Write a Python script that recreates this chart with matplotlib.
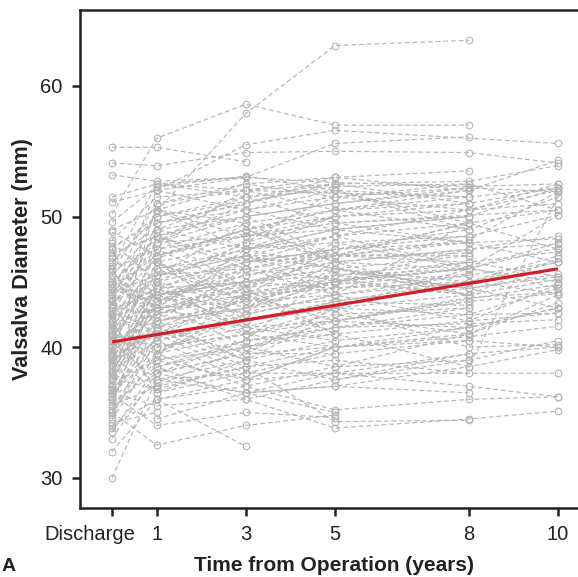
import numpy as np
import matplotlib
matplotlib.use("Agg")
import matplotlib.pyplot as plt
from matplotlib.transforms import ScaledTranslation

plt.rcParams["font.family"] = ["Liberation Sans", "DejaVu Sans"]

_ = np.nan

# follow-up time points (years after operation; 0 = discharge)
times = [0, 1, 3, 5, 8, 10]
tick_labels = ["Discharge", "1", "3", "5", "8", "10"]

# Valsalva diameter (mm) per patient, one list per time point (nan = not measured)
discharge = [
    50.2, _, 55.3, 54.1, 30.0, 32.0, 35.0, 36.5, 53.2, 51.1,
    38.5, 42.0, 36.0, 44.5, 40.0, 34.5, 47.7, 39.0, 43.0, 37.5,
    41.0, 45.0, 38.0, 35.5, 42.5, 40.5, 46.0, 39.5, 37.0, 43.5,
    48.2, 36.8, 41.5, 44.0, 33.5, 40.0, 46.5, 38.8, 42.8, 35.0,
    49.6, 39.2, 44.8, 37.8, 41.8, 36.2, 43.8, 40.8, 34.0, 45.5,
    38.2, 42.2, 39.8, 47.0, 36.5, 41.2, 44.2, 37.2, 43.2, 35.8,
    46.8, 40.2, 38.6, 45.2, 33.0, 41.6, 48.8, 39.4, 43.6, 36.0,
    _, _, _, _, _, _, _, _, _, _,
    _, _, _, _, _, _, _, _, _, _,
    _, _, _, _, _, _, _, _, _, _,
    47.5, 34.2, 42.6, 39.6, 45.8, 37.6, 40.6, 44.4, 35.2, 41.4,
    38.0, 43.0, 39.0, 46.2, 37.0, 40.4, 42.4, 44.6, 36.4, 41.0,
    51.5, 49.0, 38.3, 40.1, 45.0, 33.8, 47.2, 39.3, 43.3, 36.7,
    44.0, 47.5, 35.5, 42.0, 39.0, 46.0, 37.5, 43.5, 41.0, 36.0,
    40.5, 45.5, 38.0, 42.5, 34.8, 43.0, 48.0, 37.0, 40.8, 44.8,
    _, _, _, _, _, _, _, _, _, _,
]
year1 = [
    56.0, 50.4, 55.3, 53.9, 37.5, 36.0, 32.5, 35.5, 52.7, 52.0,
    44.5, 45.5, 41.5, 47.0, 43.0, 39.5, 49.5, 45.0, 44.0, 43.5,
    44.0, 48.0, 44.5, 37.0, 46.0, 42.0, 47.5, 43.5, 42.0, 45.0,
    51.5, 40.0, 42.5, 48.5, 38.5, 46.5, 50.0, 42.0, 44.5, 41.0,
    52.3, 41.0, 46.5, 41.5, 43.0, 38.5, 47.5, 44.5, 36.0, 49.0,
    40.5, 44.0, 43.0, 49.0, 39.5, 45.5, 45.5, 39.0, 48.0, 38.0,
    44.0, 46.0, 44.5, 42.0, 38.0, 38.5, 47.0, 36.5, 50.5, 42.5,
    48.5, 45.0, 42.0, 50.0, 46.0, 39.0, 52.0, 44.0, 37.0, 47.0,
    41.0, 49.5, 43.5, 36.0, 51.0, 40.0, 45.5, 38.0, 48.0, 42.5,
    _, _, _, _, _, _, _, _, _, _,
    50.0, 35.0, 44.5, 42.5, 51.0, 36.8, 39.5, 43.5, 39.0, 47.0,
    44.0, 41.0, 45.0, 52.5, 43.5, 37.5, 49.0, 44.0, 34.0, 40.0,
    52.5, 50.5, 42.8, 46.5, 43.0, 37.5, 48.5, 41.3, 46.8, 40.8,
    52.0, 41.5, 45.0, 36.5, 51.0, 40.5, 48.5, 38.0, 49.5, 44.0,
    47.5, 43.0, 42.0, 50.5, 40.5, 39.5, 45.0, 45.5, 37.0, 48.5,
    52.5, 46.5, 39.5, 50.5, 43.0, 34.5, 48.0, 41.5, _, _,
]
year3 = [
    58.6, 57.9, 54.2, 54.9, 38.0, 32.4, 34.0, 36.0, 53.0, 55.5,
    42.5, 47.0, 39.5, 49.0, 44.0, 37.0, 51.0, 41.0, 45.5, 40.0,
    46.0, 50.0, 41.5, _, 47.5, 43.0, 48.5, _, 39.0, _,
    52.0, 41.5, 44.0, 50.5, 36.0, 42.0, _, 43.5, 45.0, 38.0,
    53.1, _, 48.0, 43.0, 43.5, 40.5, 49.5, 46.5, 37.5, 51.5,
    42.0, _, 44.5, 50.0, 41.0, 47.5, 46.0, 40.0, 51.0, 39.5,
    45.0, 43.5, 47.0, 43.5, 40.5, 40.0, 48.5, 39.0, 52.5, 41.0,
    50.0, 46.5, 43.0, 51.5, 47.0, 40.5, 53.0, _, 38.5, 49.0,
    42.0, 50.5, 45.5, 37.0, 52.0, 41.0, 47.0, 39.5, 48.5, 44.5,
    47.5, 44.0, 50.5, 40.5, 36.5, _, _, _, 38.5, 44.0,
    _, _, _, 45.0, _, 38.5, 42.5, 46.5, 37.5, 49.0,
    42.0, 44.0, 48.0, 53.0, 46.0, 36.5, 47.5, 45.0, 35.0, 41.0,
    52.0, 49.5, 45.0, 44.0, 41.5, 39.0, 46.5, 38.5, 49.0, 43.8,
    50.5, 44.0, 43.0, 38.0, 52.5, 42.5, 46.0, 36.5, 51.0, 41.5,
    44.5, 47.0, 46.0, 48.5, 37.5, 43.0, 48.0, 49.5, 40.0, 44.5,
    51.5, 43.5, 44.0, 47.5, 47.5, 36.5, 52.0, 39.0, 49.0, 39.5,
]
year5 = [
    57.0, 63.1, _, 55.0, _, _, 34.8, 33.8, 55.6, 56.6,
    44.0, 44.0, 40.0, 50.5, 45.5, 38.5, 52.5, 42.0, 47.0, 41.0,
    47.5, 47.0, _, _, 49.0, _, 50.0, 45.0, 40.5, _,
    52.5, 42.0, 44.5, 52.0, 37.5, 43.0, 52.3, _, 46.5, _,
    52.0, _, 52.0, 45.0, 44.0, 46.0, _, 48.5, 38.0, 52.5,
    43.5, _, 41.0, 51.0, _, 48.0, _, 41.5, 53.0, 43.0,
    44.5, 45.0, _, _, 41.0, 42.0, 49.5, 37.5, 53.0, 43.0,
    51.0, 47.0, 44.5, 52.0, 46.0, 41.5, 52.6, 46.0, 40.0, 50.0,
    43.0, _, 46.5, 35.2, 53.0, 42.5, 48.5, 39.5, 49.0, _,
    48.5, 45.0, 51.5, 41.5, 37.0, 45.5, 49.5, 42.0, 34.3, 41.0,
    _, _, _, _, _, _, 45.5, _, 40.0, 50.5,
    43.5, 47.5, 50.0, _, 47.0, 37.0, 49.0, 46.0, 34.6, 40.0,
    _, 50.5, 45.5, _, 40.5, _, 47.5, 39.0, 47.0, 44.8,
    49.0, _, 46.5, 39.5, 51.5, 44.0, _, 38.0, _, 43.5,
    47.0, 45.0, 44.0, 51.5, 40.0, 46.0, 47.0, 46.5, 38.5, 48.0,
    49.5, 45.0, 42.0, 50.0, 46.0, 35.0, 50.5, 42.5, 46.5, 43.0,
]
year8 = [
    57.0, 63.5, _, 54.9, _, _, _, 34.5, 56.1, _,
    45.0, 49.5, 41.5, 52.0, 46.0, 39.0, 52.7, 43.5, 48.2, 42.0,
    48.0, _, _, _, 50.0, 44.5, 51.0, 46.5, _, _,
    51.0, _, 45.0, _, 39.0, 42.5, 52.5, _, 47.5, _,
    49.5, _, 49.0, 46.0, _, 44.0, _, 50.5, 37.0, _,
    43.2, 46.0, _, 52.0, _, 48.5, _, 41.8, 53.5, 40.0,
    _, 44.0, 47.0, _, _, 41.5, _, 39.5, 52.0, _,
    52.2, 47.2, 45.5, 51.5, _, 42.5, 52.3, 47.0, 41.0, 50.5,
    44.0, _, 46.0, 36.0, _, 43.0, _, 40.5, 48.0, _,
    49.5, 46.0, 52.2, 43.0, 38.5, 46.5, 50.0, 43.8, 34.4, 38.5,
    _, _, _, _, _, _, _, 49.0, 40.8, 49.0,
    _, 48.5, _, _, 48.0, 36.5, 50.0, 45.0, _, 40.5,
    51.5, 51.0, 44.5, _, 41.5, _, _, 38.0, 46.5, 45.6,
    _, _, 47.5, _, 50.5, 45.5, 44.0, 39.5, _, 45.0,
    49.5, _, 42.0, 52.5, _, 44.5, 49.5, _, 41.0, 46.0,
    48.0, 47.5, 43.5, _, 44.5, _, 51.5, 41.0, 44.0, 46.0,
]
year10 = [
    _, _, _, 54.1, _, _, _, 35.1, _, 55.6,
    46.5, 47.5, 43.0, 54.3, 47.6, 40.5, 53.9, 44.1, 51.9, 42.6,
    _, _, _, _, _, 45.4, 52.2, _, _, _,
    _, 44.8, _, _, _, 44.5, 50.5, _, 47.9, 38.0,
    _, _, 51.5, _, _, 46.8, _, 52.5, 36.2, _,
    _, 45.0, _, _, _, 50.1, _, 42.1, _, 40.2,
    _, _, _, _, _, 43.0, 50.5, _, _, _,
    51.9, _, 46.5, _, _, 42.6, 52.5, _, 43.4, 51.0,
    45.2, _, _, 36.2, _, _, 44.5, _, 46.5, _,
    50.5, _, _, _, 39.8, 47.3, _, 44.2, _, 51.5,
    _, _, _, _, _, _, _, _, 41.6, _,
    _, _, _, _, 48.3, _, 52.2, 44.1, _, 40.0,
    _, _, _, _, _, _, _, _, 45.4, _,
    _, _, _, _, 52.0, _, _, 40.0, _, 47.0,
    _, _, 44.8, _, _, 45.6, _, _, _, 50.1,
    _, 48.5, _, _, 43.0, _, 52.2, 44.0, _, 48.0,
]

# population trend (fitted line) at discharge and 10 years
fit_x = [0, 10]
fit_y = [40.4, 46.0]

GRAY = "#b6b6b6"
RED = "#d11f2a"
INK = "#222222"

fig = plt.figure(figsize=(5.78, 5.77), dpi=100)
ax = fig.add_axes([80 / 578, 69 / 577, 498 / 578, 498 / 577])

vals = np.array([discharge, year1, year3, year5, year8, year10], dtype=float).T
t = np.array(times, dtype=float)
for row in vals:
    ok = ~np.isnan(row)
    ax.plot(t[ok], row[ok], color=GRAY, lw=0.85, ls=(0, (4, 2.5)),
            marker="o", ms=4.8, mfc="none", mec=GRAY, mew=0.8, zorder=2)

ax.plot(fit_x, fit_y, color=RED, lw=2.3, solid_capstyle="butt", zorder=5)

ax.set_xlim(-0.72, 10.45)
ax.set_ylim(27.68, 65.82)
ax.set_xticks(times)
ax.set_xticklabels(tick_labels)
ax.set_yticks([30, 40, 50, 60])

for side in ("left", "bottom", "top"):
    ax.spines[side].set_linewidth(1.8)
    ax.spines[side].set_color(INK)
ax.spines["right"].set_visible(False)
ax.tick_params(direction="out", length=6, width=1.8, color=INK,
               labelsize=14.5, labelcolor=INK, pad=6.5)

# "Discharge" sits left of its tick so it does not run into "1"
lab0 = ax.get_xticklabels()[0]
lab0.set_transform(lab0.get_transform() + ScaledTranslation(-22 / 100, 0, fig.dpi_scale_trans))

ax.set_xlabel("Time from Operation (years)", fontsize=15, fontweight="bold", color=INK)
ax.xaxis.set_label_coords(0.511, -0.096)
ax.xaxis.label.set_va("top")
ax.set_ylabel("Valsalva Diameter (mm)", fontsize=15.5, fontweight="bold", color=INK)
ax.yaxis.set_label_coords(-0.094, 0.5)

# panel letter, bottom-left corner
fig.text(0.003, 0.004, "A", fontsize=14, fontweight="bold", color=INK,
         ha="left", va="bottom")

fig.savefig("out.png", dpi=100)
